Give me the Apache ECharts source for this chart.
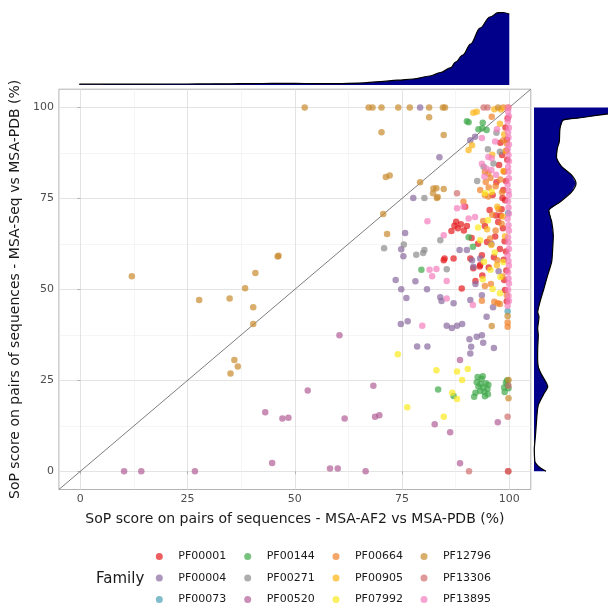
<!DOCTYPE html>
<html><head><meta charset="utf-8">
<script src="https://cdn.jsdelivr.net/npm/echarts@6/dist/echarts.min.js"></script>
<style>html,body{margin:0;padding:0;background:#fff}#c{width:608px;height:606px}</style>
</head><body><div id="c"></div>
<script>
const families = ['PF00001','PF00004','PF00073','PF00144','PF00271','PF00520','PF00664','PF00905','PF07992','PF12796','PF13306','PF13895'];
const familyColors = ['#E41A1C','#8A6A9E','#4B9FB8','#3EA84A','#8C8C8C','#B15E96','#F0802A','#FDB515','#FBEA1E','#C98A2E','#CF6F6C','#F57EBE'];

const PF00001 = [[86.5,66.0],[87.2,67.5],[88.0,66.8],[88.7,67.9],[89.4,66.2],[90.1,67.4],[87.6,68.6],[89.7,72.7],[84.9,58.5],[88.9,50.2],[92.1,52.3],[93.2,56.7],[93.6,59.4],[91.6,55.8],[90.9,58.5],[84.7,58.0],[87.0,58.5],[95.2,56.0],[93.1,56.3],[97.4,68.5],[98.0,70.2],[98.5,66.8],[98.2,72.0],[99.0,74.5],[98.6,77.3],[99.2,79.8],[98.8,82.4],[99.5,85.6],[99.3,88.1],[99.4,91.2],[99.1,94.5],[99.6,97.0],[98.9,63.2],[99.2,60.4],[98.7,58.1],[99.3,55.2],[98.8,52.6],[99.0,49.8],[99.4,46.7],[97.8,61.1],[96.7,64.5],[95.4,71.8],[96.1,75.9],[97.0,79.4],[97.6,84.2],[96.4,58.8],[94.8,63.0],[92.7,62.5],[99.7,0.0],[98.3,86.9],[97.9,90.3],[98.4,75.1],[96.9,70.3],[94.3,67.4],[91.2,64.1],[93.7,53.8]];
const PF00004 = [[79.2,100],[83.7,86.3],[77.6,75.1],[75.7,65.5],[74.8,61.0],[75.3,59.1],[73.5,52.6],[78.1,52.2],[74.8,50.0],[80.8,50.0],[76.0,47.6],[74.7,40.5],[76.3,41.2],[78.5,34.3],[80.9,34.3],[92.1,51.5],[83.9,47.8],[84.2,46.8],[87.0,46.2],[90.9,47.1],[93.6,48.4],[94.7,42.5],[85.4,40.0],[86.6,39.4],[87.8,40.0],[89.0,40.5],[90.7,36.3],[92.4,37.0],[93.6,37.4],[93.9,35.3],[96.4,33.9],[91.1,34.2],[90.9,32.4],[90.9,91.0],[92.0,91.9],[88.4,60.8],[90.1,60.8],[91.3,58.0],[91.6,56.2],[93.2,58.5],[95.8,62.5],[97.5,55.0],[96.2,45.1]];
const PF00073 = [[99.7,71.0],[99.6,44.0]];
const PF00144 = [[90.5,95.9],[90.1,96.2],[93.8,95.8],[92.8,94.0],[93.7,94.3],[94.7,93.8],[79.5,55.4],[83.4,22.5],[87.0,20.7],[91.8,20.5],[90.5,64.3],[91.5,61.7],[92.4,24.5],[92.8,23.3],[93.2,22.1],[93.5,25.4],[93.9,23.0],[94.2,21.8],[94.5,24.2],[94.9,22.6],[95.1,23.8],[92.6,25.9],[93.8,26.1],[94.3,20.6],[92.1,21.6],[95.0,21.2],[93.3,24.0],[98.8,23.0],[99.2,24.4],[99.8,22.8],[99.5,25.0],[98.9,21.8],[99.6,23.7]];
const PF00271 = [[80.2,75.1],[70.8,61.3],[75.4,62.3],[78.3,59.5],[79.9,60.0],[80.2,60.8],[85.4,55.5],[97.8,87.8],[96.3,84.6],[94.0,83.7],[83.9,63.5],[92.5,79.8],[95.0,88.5],[97.0,93.0]];
const PF00520 = [[10.2,0],[14.2,0],[26.7,0],[53.0,22.2],[43.1,16.2],[47.1,14.5],[48.5,14.7],[44.7,2.3],[60.4,37.4],[68.3,23.5],[61.6,14.5],[68.7,15.0],[69.7,15.4],[82.6,12.9],[58.2,0.8],[60.0,0.8],[66.5,0],[88.5,30.6],[86.2,10.7],[97.3,13.5],[88.5,2.2]];
const PF00664 = [[94.3,50.9],[95.7,51.5],[99.4,48.4],[93.6,46.9],[96.5,46.6],[97.3,46.2],[97.8,46.0],[99.6,40.9],[99.6,39.7],[95.9,97.4],[98.6,91.0],[99.4,90.1],[94.3,82.3],[95.1,81.9],[93.2,77.3],[94.3,75.9],[95.1,75.5],[89.3,74.1],[99.7,100],[97.5,72.0],[96.0,70.5],[98.2,68.0],[96.8,66.2],[93.9,68.8],[95.5,64.0],[97.2,58.0],[98.4,53.5],[94.5,79.5],[95.6,80.6],[96.8,78.3],[97.9,80.2],[98.3,76.7],[95.2,78.0],[98.6,100]];
const PF00905 = [[91.6,98.5],[92.4,98.8],[91.3,89.6],[90.5,88.3],[98.0,99.4],[96.5,99.5],[97.8,95.5],[98.8,92.6],[99.2,88.0],[96.0,87.0],[97.2,72.7],[94.8,66.5],[98.5,70.0],[95.8,62.2],[97.1,56.6],[99.0,64.6],[98.6,82.5]];
const PF07992 = [[74.0,32.2],[83.0,27.8],[76.2,17.6],[87.8,27.4],[90.3,28.1],[89.0,25.1],[86.7,21.6],[87.8,19.9],[84.7,15.0],[96.1,50.1],[97.8,48.9],[93.8,52.8],[95.6,55.4],[94.1,57.6],[96.6,60.1],[93.2,63.5],[97.9,53.4],[95.0,69.0],[92.7,67.0],[98.6,57.5],[94.3,76.4],[95.9,76.8]];
const PF12796 = [[52.3,100],[12.0,53.6],[46.0,59.0],[46.2,59.2],[40.8,54.5],[38.4,50.3],[27.7,47.1],[34.8,47.5],[40.3,45.1],[40.3,40.5],[35.9,30.6],[36.7,28.8],[35.0,26.9],[67.2,100],[68.1,100],[70.2,100],[74.1,100],[76.8,100],[81.3,100],[81.3,97.3],[70.2,93.2],[71.2,80.9],[72.1,81.3],[79.2,79.4],[83.0,77.8],[82.2,76.4],[83.1,75.1],[83.3,75.4],[70.6,70.7],[71.5,65.2],[84.5,100],[85.0,100],[97.4,100],[84.7,92.4],[82.3,77.7],[84.7,77.6],[99.6,42.7],[95.9,39.9],[99.8,25.1],[99.8,20.1]];
const PF13306 = [[87.8,76.4],[99.8,23.5],[99.6,15.0],[90.6,0],[99.8,0],[94.0,100],[94.9,100]];
const PF13895 = [[80.9,68.7],[81.4,55.4],[83.0,55.6],[82.0,53.6],[79.7,40.0],[85.4,52.3],[85.4,47.5],[91.5,45.7],[99.6,45.5],[97.1,94.0],[93.6,91.6],[96.7,90.6],[95.1,86.4],[95.9,86.0],[93.6,84.5],[94.6,83.2],[95.8,82.8],[96.9,81.5],[94.2,81.0],[87.8,72.3],[89.3,72.7],[90.5,69.5],[92.0,69.9],[84.7,64.9],[99.8,100],[99.7,98.9],[99.9,97.6],[99.6,96.2],[99.9,94.4],[99.7,93.1],[99.8,91.7],[99.9,89.8],[99.6,88.5],[99.8,86.9],[99.9,85.2],[99.7,83.6],[99.8,82.3],[99.9,80.5],[99.6,78.8],[99.8,77.1],[99.9,75.9],[99.7,74.2],[99.8,72.5],[99.9,70.8],[99.6,69.4],[99.8,67.6],[99.9,66.1],[99.7,64.3],[99.8,62.9],[99.9,61.1],[99.6,59.4],[99.8,57.8],[99.9,56.5],[99.7,54.7],[99.8,53.0],[99.9,51.6],[99.7,49.9],[99.8,48.2],[99.9,46.8]];
const familyData = [PF00001,PF00004,PF00073,PF00144,PF00271,PF00520,PF00664,PF00905,PF07992,PF12796,PF13306,PF13895];

const tickValues = [0,25,50,75,100];
const minorValues = [12.5,37.5,62.5,87.5];

// marginal densities (arbitrary units)
const topDensX = [0,5,10,15,20,25,30,35,40,45,50,55,60,65,70,74,77.6,81.5,84,86.4,87.5,89.2,91,93.2,95.5,97.4,98.5,100];
const topDensY = [0.8,0.8,0.9,0.9,1.0,1.0,1.1,1.2,1.4,1.6,1.6,1.4,1.4,1.9,3.3,4.8,6,9,12.5,17.3,23,30,41,57,68,72.3,72.5,71];
const rightDensY = [0,0.4,1.5,2.6,4,6.3,9,11.8,15.5,18.2,21,23.2,24.5,26.5,28.5,30.1,33.8,37.4,39.3,42.5,43.8,46.6,50.3,53.9,57.6,61.3,64.9,68.6,71.8,74,76.8,79.1,81.4,83.7,86,88.7,90.6,94.2,96.5,97.1,98.2,99,100];
const rightDensW = [12,9.3,4,1,0.5,0.3,1.2,2,3,4.3,9.3,13.7,12,7.7,4.5,3.7,3.7,4.3,3.7,5,3.7,6,10,13.7,17.7,18.7,19.3,17.7,15,26,37.7,42,37.7,27.7,22.7,23.3,25.3,26,29,45,74,110,150];

const FONT = 'DejaVu Sans';
const chart = echarts.init(document.getElementById('c'), null, {renderer:'canvas'});

const mainGrid = {left:57.8, right:77.2, top:89.2, bottom:116.5, show:true, borderColor:'#b3b3b3', borderWidth:1, backgroundColor:'transparent'};

const scatterSeries = families.map((f,i)=>({
  name:f, type:'scatter', xAxisIndex:0, yAxisIndex:0,
  data: familyData[i], symbolSize:6.5,
  itemStyle:{color:familyColors[i], opacity:0.7},
  emphasis:{disabled:true}, z:3
}));

const legendCols = [0,1,2,3].map(c=>({
  orient:'vertical', left:[155.8,244.2,332.5,420.5][c], top:549.5, height:70,
  data: families.slice(c*3, c*3+3),
  icon:'circle', itemWidth:7, itemHeight:7, itemGap:7.5,
  formatter:'   {name}',
  textStyle:{fontFamily:FONT, fontSize:11, color:'#1a1a1a', lineHeight:14},
  selectedMode:false, padding:0
}));

chart.setOption({
  animation:false,
  textStyle:{fontFamily:FONT},
  grid:[
    mainGrid,
    {left:57.8, right:77.2, top:5, bottom:521, show:false},
    {left:534, right:0, top:89.2, bottom:116.5, show:false}
  ],
  xAxis:[
    {type:'value', gridIndex:0, min:-5, max:105, position:'bottom',
     name:'SoP score on pairs of sequences - MSA-AF2 vs MSA-PDB (%)', nameLocation:'middle', nameGap:23,
     nameTextStyle:{fontFamily:FONT, fontSize:14, color:'#1a1a1a'},
     axisLine:{show:false},
     axisTick:{show:true, length:3, lineStyle:{color:'#b3b3b3'}, customValues:tickValues},
     axisLabel:{fontSize:11, color:'#4d4d4d', margin:4, customValues:tickValues},
     splitLine:{show:true, lineStyle:{color:'#e0e0e0', width:0.9}}},
    {type:'value', gridIndex:0, min:-5, max:105, position:'top',
     axisLine:{show:false}, axisLabel:{show:false},
     axisTick:{show:false, customValues:minorValues},
     splitLine:{show:true, lineStyle:{color:'#eeeeee', width:0.6}}},
    {type:'value', gridIndex:1, min:-5, max:105, show:false},
    {type:'value', gridIndex:2, min:0, max:74, show:false}
  ],
  yAxis:[
    {type:'value', gridIndex:0, min:-5, max:105, position:'left',
     name:'SoP score on pairs of sequences - MSA-Seq vs MSA-PDB (%)', nameLocation:'middle', nameGap:29,
     nameTextStyle:{fontFamily:FONT, fontSize:14, color:'#1a1a1a'},
     axisLine:{show:false},
     axisTick:{show:true, length:3, lineStyle:{color:'#b3b3b3'}, customValues:tickValues},
     axisLabel:{fontSize:11, color:'#4d4d4d', margin:5, customValues:tickValues},
     splitLine:{show:true, lineStyle:{color:'#e0e0e0', width:0.9}}},
    {type:'value', gridIndex:0, min:-5, max:105, position:'right',
     axisLine:{show:false}, axisLabel:{show:false},
     axisTick:{show:false, customValues:minorValues},
     splitLine:{show:true, lineStyle:{color:'#eeeeee', width:0.6}}},
    {type:'value', gridIndex:1, min:0, max:80, show:false},
    {type:'value', gridIndex:2, min:-5, max:105, show:false}
  ],
  legend: legendCols,
  graphic:[{type:'text', left:96, top:572, style:{text:'Family', font:'15px "DejaVu Sans"', fill:'#1a1a1a'}}],
  series:[
    {type:'line', xAxisIndex:0, yAxisIndex:0, data:[[-5,-5],[105,105]], symbol:'none',
     lineStyle:{color:'#6e6e6e', width:0.9}, silent:true, z:2},
    ...scatterSeries,
    {type:'line', xAxisIndex:2, yAxisIndex:2, data: topDensX.map((x,i)=>[x, topDensY[i]]),
     symbol:'none', smooth:0.35, smoothMonotone:'x',
     lineStyle:{color:'#000', width:1.2}, areaStyle:{color:'#00008B', opacity:1}, silent:true},
    {type:'custom', xAxisIndex:3, yAxisIndex:3, data:[[0,0]], silent:true,
     renderItem:function(params, api){
       const pts = rightDensY.map((y,i)=>api.coord([rightDensW[i], y]));
       const b0 = api.coord([0, rightDensY[0]]);
       const bN = api.coord([0, rightDensY[rightDensY.length-1]]);
       return {type:'group', children:[
         {type:'polygon', shape:{points:[b0].concat(pts).concat([bN]), smooth:0}, style:{fill:'#00008B'}},
         {type:'polyline', shape:{points:pts, smooth:0.25}, style:{stroke:'#000', lineWidth:1.2, fill:null}}
       ]};
     }}
  ]
});
</script></body></html>
